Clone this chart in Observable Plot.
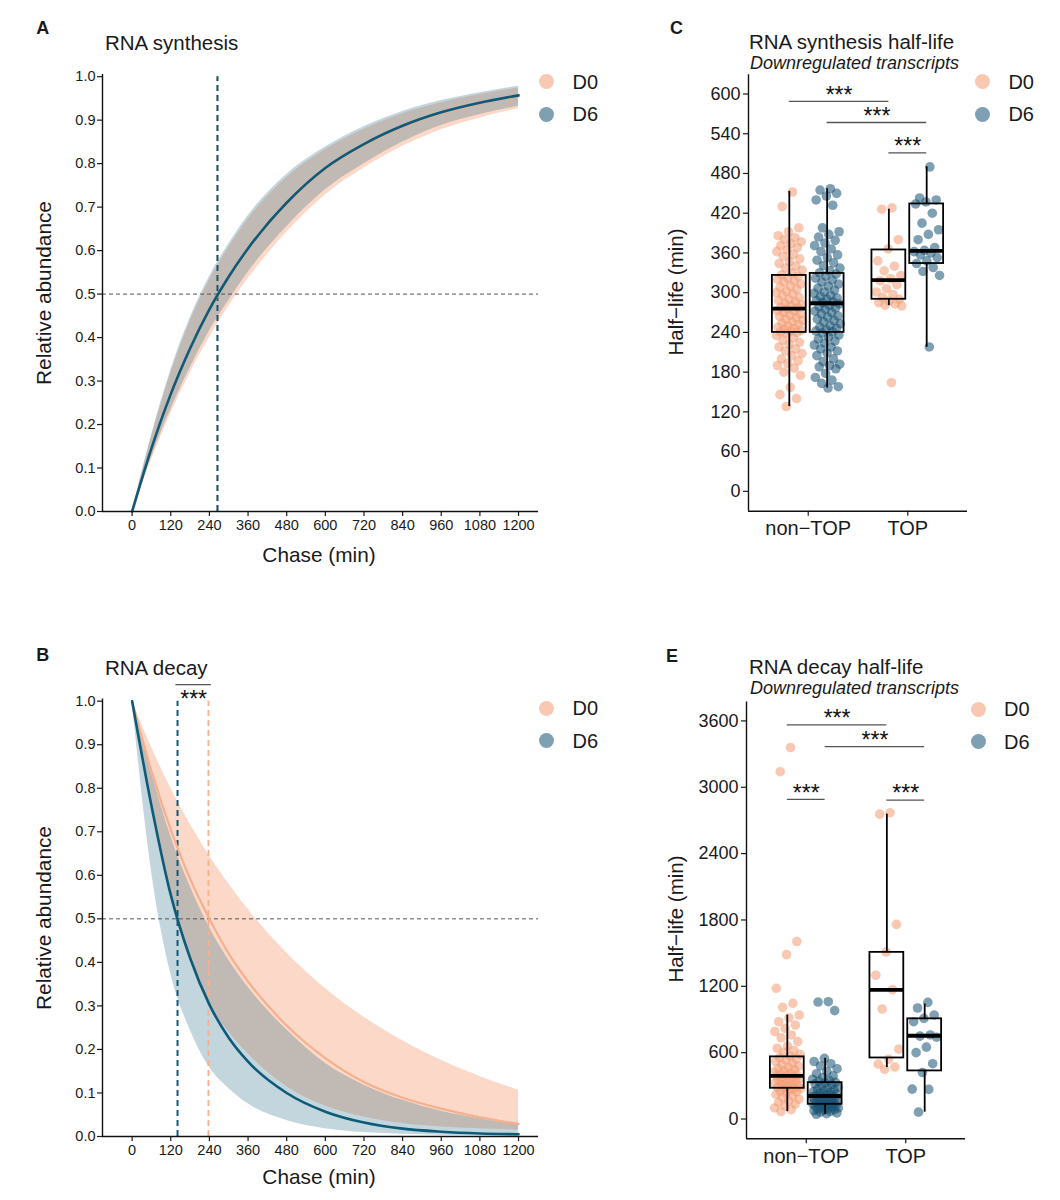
<!DOCTYPE html>
<html>
<head>
<meta charset="utf-8">
<script src="https://cdn.jsdelivr.net/npm/d3@7"></script>
<script src="https://cdn.jsdelivr.net/npm/@observablehq/plot@0.6"></script>
<style>
  html, body { margin: 0; padding: 0; background: #fff; }
  #root { position: relative; width: 1060px; height: 1200px; overflow: hidden; font-family: "Liberation Sans", Arial, sans-serif; color: #1a1a1a; }
  .pnl { position: absolute; }
  .pnl svg { display: block; background: transparent; max-width: none; overflow: visible; }
  .txt { position: absolute; white-space: nowrap; line-height: 1; }
  .dot { position: absolute; border-radius: 50%; }
</style>
</head>
<body>
<div id="root"></div>
<script>
// ---------------- data ----------------
const chaseTicks = [0, 120, 240, 360, 480, 600, 720, 840, 960, 1080, 1200];
const abundTicks = [0, 0.1, 0.2, 0.3, 0.4, 0.5, 0.6, 0.7, 0.8, 0.9, 1.0];
const chaseTimes = [0, 60, 120, 180, 240, 300, 360, 480, 600, 720, 840, 960, 1080, 1200];

// A: RNA synthesis (relative abundance vs chase)
const synD0   = [0, 0.143, 0.268, 0.373, 0.463, 0.538, 0.603, 0.708, 0.788, 0.843, 0.885, 0.916, 0.938, 0.955];
const synD6   = [0, 0.145, 0.270, 0.375, 0.465, 0.540, 0.605, 0.710, 0.790, 0.845, 0.887, 0.918, 0.940, 0.957];
const synD0Lo = [0, 0.118, 0.225, 0.318, 0.400, 0.472, 0.535, 0.642, 0.728, 0.790, 0.840, 0.878, 0.905, 0.926];
const synD0Hi = [0, 0.170, 0.318, 0.437, 0.532, 0.607, 0.672, 0.768, 0.832, 0.879, 0.915, 0.940, 0.959, 0.974];
const synD6Lo = [0, 0.125, 0.235, 0.330, 0.415, 0.485, 0.550, 0.655, 0.740, 0.800, 0.850, 0.888, 0.913, 0.932];
const synD6Hi = [0, 0.175, 0.325, 0.445, 0.540, 0.615, 0.680, 0.775, 0.838, 0.885, 0.920, 0.945, 0.963, 0.978];
const synHalfLife = [265, 265];           // D0, D6

// B: RNA decay
const decD0   = [1, 0.840, 0.705, 0.592, 0.500, 0.420, 0.356, 0.255, 0.180, 0.125, 0.089, 0.064, 0.044, 0.029];
const decD0Lo = [1, 0.760, 0.560, 0.410, 0.305, 0.240, 0.190, 0.115, 0.070, 0.045, 0.030, 0.022, 0.018, 0.015];
const decD0Hi = [1, 0.895, 0.800, 0.718, 0.645, 0.580, 0.522, 0.422, 0.340, 0.274, 0.220, 0.175, 0.138, 0.106];
const decD6   = [1, 0.760, 0.555, 0.410, 0.303, 0.227, 0.172, 0.100, 0.057, 0.032, 0.018, 0.011, 0.007, 0.005];
const decD6Lo = [1, 0.610, 0.374, 0.245, 0.159, 0.110, 0.075, 0.037, 0.018, 0.009, 0.005, 0.003, 0.002, 0.001];
const decD6Hi = [1, 0.835, 0.690, 0.575, 0.480, 0.405, 0.343, 0.245, 0.168, 0.118, 0.083, 0.058, 0.041, 0.027];
const decHalfLife = [237, 141];           // D0, D6
const decSigSpan = [136, 246];
const decSigLevel = 1.038;

// C / E: categories
const groupLabels = ["non−TOP", "TOP"];
const synHalfTicks = [0, 60, 120, 180, 240, 300, 360, 420, 480, 540, 600];
const decHalfTicks = [0, 600, 1200, 1800, 2400, 3000, 3600];

// C: synthesis half-life points (min)
const synPtsD0nonTOP = [452, 430, 398, 392, 386, 383, 380, 377, 374, 371, 368, 365, 362, 358, 355, 351, 347, 344, 340, 337, 334, 330, 327,
  325, 322, 320, 318, 316, 313, 310, 308, 305, 302, 300, 298, 296, 293, 290, 288, 286, 284, 282, 280, 278, 277,
  275, 273, 272, 270, 268, 266, 264, 262, 260, 258, 256, 254, 252, 250, 248, 246, 245, 243, 242, 241, 240,
  238, 235, 232, 228, 225, 222, 218, 215, 212, 208, 205, 200, 197, 193, 190, 186, 180, 175, 157, 146, 140, 128];
const synPtsD6nonTOP = [457, 455, 450, 446, 440, 432, 398, 392, 388, 384, 379, 375, 371, 366, 362, 357, 353, 349, 345, 341, 337, 333, 330,
  328, 325, 322, 319, 316, 313, 310, 307, 304, 301, 299, 296, 294, 292, 290, 288, 286, 285,
  283, 281, 279, 277, 275, 272, 270, 268, 265, 263, 260, 258, 256, 253, 250, 248, 246, 244, 242, 241,
  239, 236, 233, 230, 227, 224, 221, 218, 215, 212, 209, 205, 200, 196, 192, 190, 188, 185, 178, 172, 168, 163, 158, 156];
const synPtsD0TOP = [428, 426, 380, 366, 348, 340, 333, 326, 321, 318, 312, 306, 301, 297, 293, 290, 287, 285, 283, 281, 280, 164];
const synPtsD6TOP = [490, 443, 440, 437, 434, 420, 405, 395, 388, 380, 368, 364, 362, 360, 357, 353, 348, 344, 338, 332, 326, 218];
// box stats per group [min, q1, median, q3, max]
const synStatsD0 = [[128, 240, 276, 326, 453], [280.5, 290, 319, 364.5, 426]];
const synStatsD6 = [[156, 240, 284, 329, 457], [217.5, 344, 363, 434, 490]];
// significance brackets [group1, cond1, group2, cond2, level]
const synSig = [[1, "D0", 2, "D0", 589], [1, "D6", 2, "D6", 557], [2, "D0", 2, "D6", 511]];

// E: decay half-life points (min)
const decPtsD0nonTOP = [3359, 3141, 1605, 1487, 1182, 1046, 1010, 940, 915, 880, 850, 820, 790, 760, 735, 700, 660, 640, 620, 600, 585, 570,
  555, 545, 535, 520, 505, 490, 478, 465, 455, 445, 435, 425, 415, 405, 398, 392,
  388, 380, 372, 365, 355, 348, 340, 332, 325, 318, 310, 302, 295, 288, 282, 279,
  275, 265, 255, 245, 235, 222, 210, 195, 180, 165, 150, 135, 120, 100, 85, 66];
const decPtsD6nonTOP = [1061, 1058, 980, 549, 520, 500, 480, 455, 430, 410, 390, 375, 360, 350, 340, 332,
  326, 318, 310, 300, 290, 280, 270, 262, 255, 248, 240, 233, 226, 220, 214, 210,
  206, 200, 195, 190, 185, 180, 175, 170, 165, 160, 155, 150, 145, 140, 136, 134,
  130, 125, 120, 115, 110, 105, 100, 95, 90, 85, 80, 75, 70, 62, 55, 48, 43];
const decPtsD0TOP = [2770, 2757, 1760, 1510, 1300, 1170, 995, 632, 541, 496, 470, 450];
const decPtsD6TOP = [1055, 1004, 940, 910, 880, 760, 750, 740, 650, 600, 500, 420, 270, 268, 62];
const decStatsD0 = [[66, 278, 390, 562, 940], [465, 552, 1167, 1507, 2757]];
const decStatsD6 = [[43, 133, 208, 329, 549], [62, 435, 753, 906, 1040]];
const decSig = [[1, "D0", 2, "D0", 3565], [1, "D6", 2, "D6", 3368], [1, "D0", 1, "D6", 2890], [2, "D0", 2, "D6", 2884]];

// ---------------- styling ----------------
const FONT = "'Liberation Sans', Arial, Helvetica, sans-serif";
const C_D0_RIB = "#f7a884", C_D6_RIB = "#0e5a78";
const C_D0_LINE = "#f5b08e", C_D6_LINE = "#0d5b79";
const C_D0_PT = "#f39b73", C_D6_PT = "#155173";
const PT_OP = 0.55;
const plain = d => String(d);

const root = document.getElementById("root");
function place(node, left, top, w, h) {
  const d = document.createElement("div");
  d.className = "pnl";
  d.style.left = left + "px"; d.style.top = top + "px";
  d.style.width = w + "px"; d.style.height = h + "px";
  d.appendChild(node);
  root.appendChild(d);
}
function text(str, x, y, o = {}) {
  const d = document.createElement("div");
  d.className = "txt";
  d.textContent = str;
  d.style.left = x + "px"; d.style.top = y + "px";
  d.style.fontSize = (o.size || 20) + "px";
  d.style.fontFamily = o.family || FONT;
  if (o.weight) d.style.fontWeight = o.weight;
  if (o.italic) d.style.fontStyle = "italic";
  let tr = o.anchor === "start" ? "translate(0,-50%)" : "translate(-50%,-50%)";
  if (o.rotate) tr += ` rotate(${o.rotate}deg)`;
  d.style.transform = tr;
  root.appendChild(d);
}
function legend(x, y) {
  [["D0", C_D0_PT, 0], ["D6", C_D6_PT, 32.5]].forEach(([lab, col, dy]) => {
    const c = document.createElement("div");
    c.className = "dot";
    const r = 7.5;
    c.style.left = (x - r) + "px"; c.style.top = (y + dy - r) + "px";
    c.style.width = 2 * r + "px"; c.style.height = 2 * r + "px";
    c.style.background = col; c.style.opacity = PT_OP;
    root.appendChild(c);
    text(lab, x + 26, y + dy, {size: 20, anchor: "start"});
  });
}

// ---------------- curve panels (A, B) ----------------
function curvePanel(o) {
  const rows = chaseTimes.map((t, i) => ({t, d0: o.d0[i], d0lo: o.d0lo[i], d0hi: o.d0hi[i], d6: o.d6[i], d6lo: o.d6lo[i], d6hi: o.d6hi[i]}));
  const X0 = -92, X1 = 1262, Y1 = 1.005;
  const marks = [
    Plot.areaY(rows, {x: "t", y1: "d0lo", y2: "d0hi", fill: C_D0_RIB, fillOpacity: 0.45, curve: "monotone-x"}),
    Plot.areaY(rows, {x: "t", y1: "d6lo", y2: "d6hi", fill: C_D6_RIB, fillOpacity: 0.25, curve: "monotone-x"}),
    Plot.ruleY([0.5], {x1: X0, x2: X1, stroke: "#555", strokeWidth: 1, strokeDasharray: "4,3"}),
    Plot.ruleX([o.half[0]], {y1: 0, y2: 1.0, stroke: C_D0_LINE, strokeWidth: 1.8, strokeDasharray: "6,4"}),
    Plot.ruleX([o.half[1]], {y1: 0, y2: 1.0, stroke: C_D6_LINE, strokeWidth: 2, strokeDasharray: "6,4"}),
    Plot.line(rows, {x: "t", y: "d0", stroke: C_D0_LINE, strokeWidth: 2.2, curve: "monotone-x"}),
    Plot.line(rows, {x: "t", y: "d6", stroke: C_D6_LINE, strokeWidth: 2.6, curve: "monotone-x"}),
    Plot.ruleX([X0], {y1: 0, y2: Y1, stroke: "#111", strokeWidth: 1.4}),
    Plot.ruleY([0], {x1: X0, x2: X1, stroke: "#111", strokeWidth: 1.4}),
    Plot.axisX({ticks: chaseTicks, tickFormat: plain, tickSize: 5, tickPadding: 3, fontSize: 14.5, label: null, strokeWidth: 1.2}),
    Plot.axisY({ticks: abundTicks, tickSize: 5, tickPadding: 2, fontSize: 14.5, label: null, strokeWidth: 1.2, tickFormat: d3.format(".1f")})
  ];
  if (o.sig) {
    marks.push(Plot.ruleY([o.sig.level], {x1: o.sig.span[0], x2: o.sig.span[1], stroke: "#555", strokeWidth: 1.4}));
    marks.push(Plot.text(["***"], {x: (o.sig.span[0] + o.sig.span[1]) / 2, y: o.sig.level, text: d => d, fontSize: 23, dy: 15, fill: "#111"}));
  }
  return Plot.plot({
    width: 560, height: 580,
    marginLeft: 102, marginRight: 560 - 538, marginTop: o.mt, marginBottom: o.mb,
    x: {domain: [X0, X1]}, y: {domain: [0, Y1]},
    style: {fontFamily: FONT, color: "#1a1a1a", background: "transparent", overflow: "visible"},
    marks
  });
}

place(curvePanel({d0: synD0, d0lo: synD0Lo, d0hi: synD0Hi, d6: synD6, d6lo: synD6Lo, d6hi: synD6Hi, half: synHalfLife, mt: 74, mb: 69}), 0, 0, 560, 580);
place(curvePanel({d0: decD0, d0lo: decD0Lo, d0hi: decD0Hi, d6: decD6, d6lo: decD6Lo, d6hi: decD6Hi, half: decHalfLife, mt: 78.5, mb: 64,
  sig: {span: decSigSpan, level: decSigLevel}}), 0, 620, 560, 580);

// ---------------- box panels (C, E) ----------------
const dodge = 0.19, halfBox = 0.17;
const condOff = {D0: -dodge, D6: dodge};
const jit = i => ((((i + 1) * 0.6180339887) % 1) - 0.5) * 0.27;

function boxPanel(o) {
  const pts = [];
  o.points.forEach(([cond, g, arr]) => arr.forEach((v, i) => pts.push({cond, x: g + condOff[cond] + jit(i), v})));
  const boxes = [];
  ["D0", "D6"].forEach(cond => o.stats[cond].forEach((s, gi) => {
    const c = gi + 1 + condOff[cond];
    boxes.push({c, x1: c - halfBox, x2: c + halfBox, lo: s[0], q1: s[1], med: s[2], q3: s[3], hi: s[4]});
  }));
  const sig = o.sig.map(([g1, c1, g2, c2, y]) => {
    const a = g1 + condOff[c1], b = g2 + condOff[c2];
    return {a, b, y, m: (a + b) / 2};
  });
  const [Y0, Y1] = o.yDomain;
  return Plot.plot({
    width: 420, height: 580,
    marginLeft: o.ml, marginRight: o.mr, marginTop: o.mt, marginBottom: o.mb,
    x: {domain: [0.4, 2.6]}, y: {domain: o.yDomain},
    style: {fontFamily: FONT, color: "#1a1a1a", background: "transparent", overflow: "visible"},
    marks: [
      Plot.dot(pts.filter(d => d.cond === "D0"), {x: "x", y: "v", r: 4.8, fill: C_D0_PT, fillOpacity: PT_OP, stroke: "none"}),
      Plot.dot(pts.filter(d => d.cond === "D6"), {x: "x", y: "v", r: 4.8, fill: C_D6_PT, fillOpacity: PT_OP, stroke: "none"}),
      Plot.ruleX(boxes, {x: "c", y1: "q3", y2: "hi", stroke: "#000", strokeWidth: 1.8}),
      Plot.ruleX(boxes, {x: "c", y1: "lo", y2: "q1", stroke: "#000", strokeWidth: 1.8}),
      Plot.rect(boxes, {x1: "x1", x2: "x2", y1: "q1", y2: "q3", fill: "none", stroke: "#000", strokeWidth: 1.8}),
      Plot.ruleY(boxes, {y: "med", x1: "x1", x2: "x2", stroke: "#000", strokeWidth: 3.8}),
      Plot.ruleY(sig, {y: "y", x1: "a", x2: "b", stroke: "#555", strokeWidth: 1.3}),
      Plot.text(sig, {x: "m", y: "y", text: () => "***", fontSize: 23, dy: -6, fill: "#111"}),
      Plot.ruleX([0.4], {y1: Y0, y2: Y1, stroke: "#111", strokeWidth: 1.4}),
      Plot.ruleY([Y0], {x1: 0.4, x2: 2.6, stroke: "#111", strokeWidth: 1.4}),
      Plot.axisX({ticks: [1, 2], tickFormat: d => groupLabels[d - 1], tickSize: 5, tickPadding: 5, fontSize: 20, label: null, strokeWidth: 1.2}),
      Plot.axisY({ticks: o.yTicks, tickFormat: plain, tickSize: 5, tickPadding: 3, fontSize: 18, label: null, strokeWidth: 1.2})
    ]
  });
}

place(boxPanel({
  points: [["D0", 1, synPtsD0nonTOP], ["D6", 1, synPtsD6nonTOP], ["D0", 2, synPtsD0TOP], ["D6", 2, synPtsD6TOP]],
  stats: {D0: synStatsD0, D6: synStatsD6}, sig: synSig,
  yDomain: [-30, 629], yTicks: synHalfTicks, ml: 108, mr: 93, mt: 74.3, mb: 69.3
}), 640, 0, 420, 580);

place(boxPanel({
  points: [["D0", 1, decPtsD0nonTOP], ["D6", 1, decPtsD6nonTOP], ["D0", 2, decPtsD0TOP], ["D6", 2, decPtsD6TOP]],
  stats: {D0: decStatsD0, D6: decStatsD6}, sig: decSig,
  yDomain: [-178, 3772], yTicks: decHalfTicks, ml: 106, mr: 95, mt: 81.4, mb: 61.8
}), 640, 620, 420, 580);

// ---------------- texts ----------------
const LETTER = {size: 18, weight: 900};
text("A", 42.7, 28, LETTER);
text("B", 42.7, 655, LETTER);
text("C", 676.6, 28, LETTER);
text("E", 672, 656, LETTER);

text("RNA synthesis", 105, 43, {size: 20.5, anchor: "start"});
text("RNA decay", 105, 668, {size: 20.5, anchor: "start"});
text("RNA synthesis half-life", 749, 42, {size: 20.5, anchor: "start"});
text("Downregulated transcripts", 750, 63, {size: 18, anchor: "start", italic: true});
text("RNA decay half-life", 749, 667, {size: 20.5, anchor: "start"});
text("Downregulated transcripts", 750, 688, {size: 18, anchor: "start", italic: true});

text("Relative abundance", 43.5, 293, {size: 20.8, rotate: -90});
text("Relative abundance", 43.5, 918, {size: 20.8, rotate: -90});
text("Chase (min)", 319, 555, {size: 20.8});
text("Chase (min)", 319, 1177, {size: 20.8});
text("Half−life (min)", 675.6, 292, {size: 20.5, rotate: -90});
text("Half−life (min)", 675.6, 919, {size: 20.5, rotate: -90});

legend(546.6, 81.5);
legend(546.6, 708);
legend(982.4, 81.5);
legend(978, 709);
</script>
</body>
</html>
